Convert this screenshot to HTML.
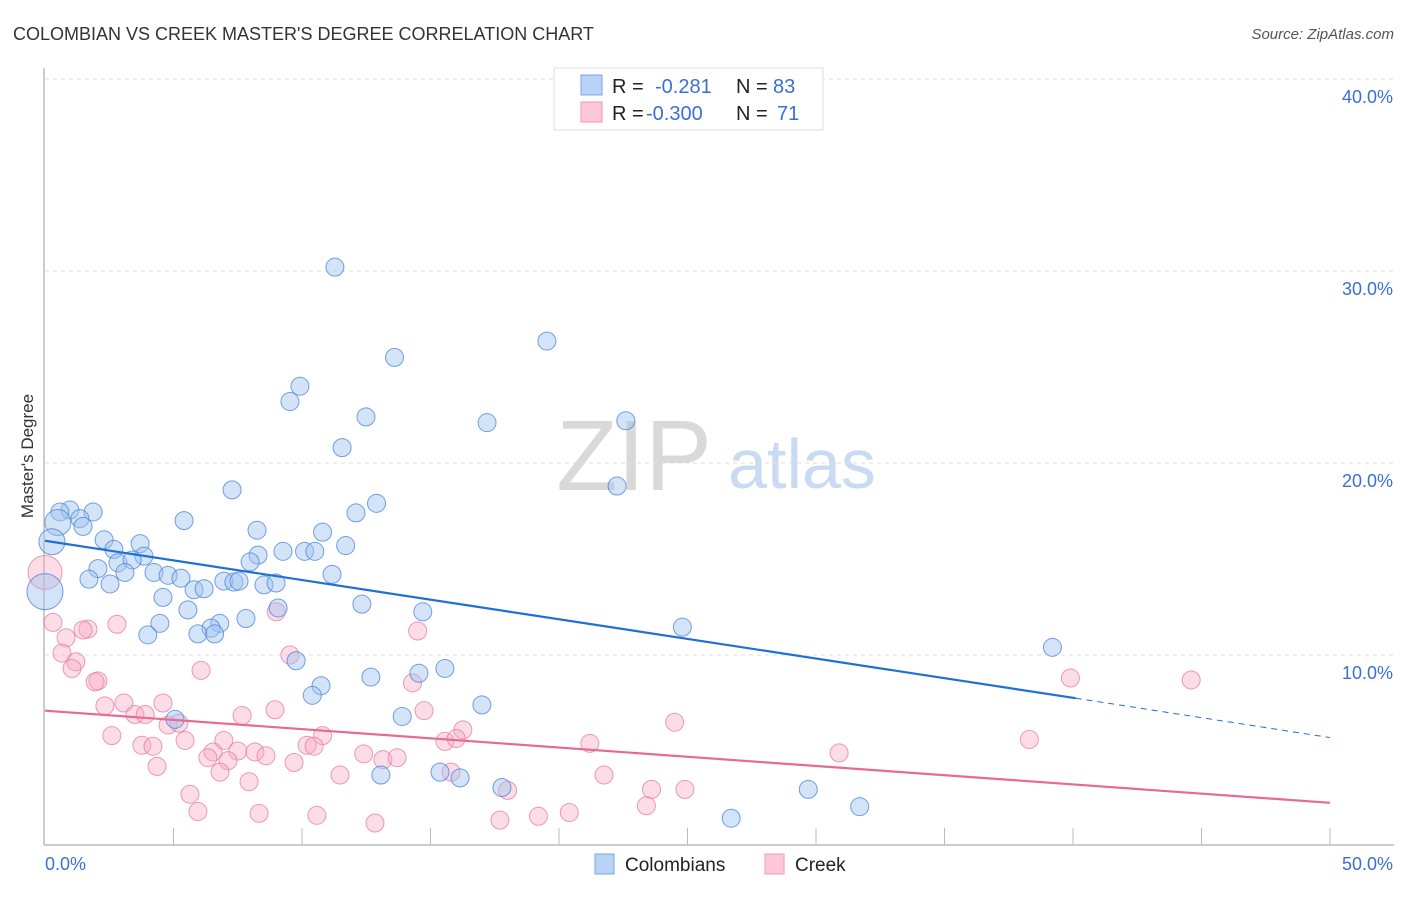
<!DOCTYPE html>
<html><head><meta charset="utf-8"><style>
body{margin:0;background:#fff;font-family:"Liberation Sans",sans-serif;}
svg text{font-family:"Liberation Sans",sans-serif;}
</style></head><body>
<svg id="chart" width="1406" height="892" viewBox="0 0 1406 892" xmlns="http://www.w3.org/2000/svg">
<text x="13" y="40" font-size="18" fill="#333">COLOMBIAN VS CREEK MASTER'S DEGREE CORRELATION CHART</text>
<text x="1394" y="39" font-size="15" fill="#555" text-anchor="end" font-style="italic">Source: ZipAtlas.com</text>
<g>
<text x="634" y="490" font-size="100" fill="#d9d9d9" text-anchor="middle" font-family="Liberation Serif, serif">ZIP</text>
<text x="802" y="488" font-size="70" fill="#c9daf2" text-anchor="middle">atlas</text>
</g>
<g id="grid"></g>
<g id="axes"></g>
<g id="marks"></g>
<text transform="translate(33,456) rotate(-90)" font-size="17" fill="#333" text-anchor="middle">Master's Degree</text>
<g>
<rect x="554" y="68" width="269" height="62" fill="#fff" stroke="#ddd"/>
<rect x="581" y="75" width="21" height="20" fill="#b8d3f5" stroke="#7aa6e6"/>
<rect x="581" y="102" width="21" height="20" fill="#fcc8d7" stroke="#ee9ab4"/>
<text x="612" y="93" font-size="20" fill="#222">R = </text>
<text x="655" y="93" font-size="20" fill="#3b6fd4">-0.281</text>
<text x="736" y="93" font-size="20" fill="#222">N = </text>
<text x="773" y="93" font-size="20" fill="#3b6fd4">83</text>
<text x="612" y="120" font-size="20" fill="#222">R = </text>
<text x="646" y="120" font-size="20" fill="#3b6fd4">-0.300</text>
<text x="736" y="120" font-size="20" fill="#222">N = </text>
<text x="777" y="120" font-size="20" fill="#3b6fd4">71</text>
</g>
<g>
<rect x="595" y="854" width="19" height="20" fill="#b8d3f5" stroke="#7aa6e6"/>
<text x="625" y="871" font-size="19" fill="#222">Colombians</text>
<rect x="765" y="854" width="19" height="20" fill="#fcc8d7" stroke="#ee9ab4"/>
<text x="795" y="871" font-size="19" fill="#222">Creek</text>
</g>
</svg>
<script>
const xTicks=[0,5,10,15,20,25,30,35,40,45,50];
const yTicks=[10,20,30,40];
const yTickLabels=["10.0%","20.0%","30.0%","40.0%"];
const blueX=[11.28,19.53,13.6,9.92,9.53,12.49,17.2,22.6,11.56,22.26,7.28,12.9,12.1,5.41,0.97,1.87,0.58,1.36,0.5,1.48,8.25,10.8,0.27,2.3,3.7,11.7,2.68,9.26,10.1,10.5,8.29,3.85,2.84,3.39,7.98,2.06,3.11,4.24,4.79,5.29,11.17,1.71,2.53,6.96,7.35,7.55,8.52,8.99,5.8,6.19,0,4.59,12.33,9.07,5.56,14.7,7.82,6.8,4.47,6.46,24.8,4.0,5.95,6.6,9.77,15.56,14.55,12.68,39.2,10.74,10.4,17.0,13.9,5.06,13.07,15.37,16.15,17.78,29.7,31.7,26.7];
const blueY=[30.2,26.35,25.5,24.0,23.2,22.4,22.1,22.2,20.8,18.8,18.6,17.9,17.4,17.0,17.55,17.45,17.45,17.1,16.9,16.7,16.5,16.4,15.9,16.0,15.8,15.7,15.5,15.4,15.4,15.4,15.2,15.15,14.8,14.95,14.85,14.5,14.3,14.3,14.15,14.0,14.2,13.95,13.7,13.85,13.8,13.85,13.65,13.75,13.4,13.45,13.3,13.0,12.65,12.45,12.35,12.25,11.9,11.65,11.65,11.4,11.45,11.05,11.1,11.1,9.7,9.3,9.05,8.85,10.4,8.4,7.9,7.4,6.8,6.65,3.75,3.9,3.6,3.1,3.0,2.1,1.5];
const blueBig=[18,22,50];
const pinkX=[0,0.31,1.67,1.48,2.8,0.82,0.66,1.2,1.05,2.06,1.95,6.07,9.53,14.5,9.0,14.3,2.33,3.07,4.59,3.5,3.9,7.67,8.95,14.75,4.79,5.21,24.5,16.26,2.6,3.77,4.2,5.45,6.96,10.8,10.2,10.47,15.56,16.0,21.2,38.3,30.9,6.54,6.34,7.5,8.17,8.6,7.12,12.4,13.15,13.7,9.69,4.36,6.81,11.48,15.8,21.75,7.94,18.0,23.6,24.9,5.64,23.4,5.95,8.33,10.58,12.84,17.7,19.2,20.4,39.9,44.6];
const pinkY=[14.3,11.7,11.35,11.3,11.6,10.9,10.1,9.65,9.3,8.65,8.6,9.2,10.0,11.25,12.25,8.55,7.35,7.5,7.5,6.9,6.9,6.85,7.15,7.1,6.35,6.45,6.5,6.1,5.8,5.3,5.25,5.55,5.55,5.8,5.3,5.25,5.5,5.65,5.4,5.6,4.9,4.95,4.65,5.0,4.95,4.75,4.5,4.85,4.55,4.65,4.4,4.2,3.9,3.75,3.9,3.75,3.4,2.95,3.0,3.0,2.75,2.15,1.85,1.75,1.65,1.25,1.4,1.6,1.8,8.8,8.7];
const pinkBig=[0];
const blueTrend=[15.95,7.75,5.7];
const blueTrendX=[0,40.1,50];
const pinkTrend=[7.1,2.3];
const pinkTrendX=[0,50];

const X0=45,X1=1330,Y0=847,PXY=19.2;
const sx=v=>X0+(X1-X0)*v/50;
const sy=v=>Y0-v*PXY;
const NS="http://www.w3.org/2000/svg";
function mk(t,a,p){const e=document.createElementNS(NS,t);for(const k in a)e.setAttribute(k,a[k]);p.appendChild(e);return e;}
const grid=document.getElementById('grid'),axes=document.getElementById('axes'),marks=document.getElementById('marks');
yTicks.forEach((v,i)=>{
 const l=mk('line',{x1:45,x2:1394,y1:sy(v),y2:sy(v),stroke:'#ddd','stroke-dasharray':'4,4'},grid);
 
 
 const t=mk('text',{x:1393,y:sy(v)+24,'font-size':18,fill:'#3b6fd4','text-anchor':'end'},axes);
 t.textContent=yTickLabels[i];
 
 
});
const ax=mk('line',{x1:44,x2:44,y1:68,y2:845,stroke:'#bbb','stroke-width':1.5},axes);


const bx=mk('line',{x1:44,x2:1394,y1:845,y2:845,stroke:'#bbb','stroke-width':1.5},axes);


xTicks.forEach(v=>{
 if(v===0)return;
 const t=mk('line',{x1:sx(v),x2:sx(v),y1:828,y2:845,stroke:'#bbb'},axes);
 
 
});
const xl0=mk('text',{x:45,y:870,'font-size':18,fill:'#3b6fd4'},axes);xl0.textContent='0.0%';


const xl1=mk('text',{x:1393,y:870,'font-size':18,fill:'#3b6fd4','text-anchor':'end'},axes);xl1.textContent='50.0%';



pinkX.forEach((v,i)=>{
 const c=mk('circle',{cx:sx(v),cy:sy(pinkY[i]),r:pinkBig.includes(i)?17:9,fill:'rgba(248,170,195,0.4)',stroke:'rgba(232,120,160,0.75)','stroke-width':1},marks);
 
 
});
blueX.forEach((v,i)=>{
 const c=mk('circle',{cx:sx(v),cy:sy(blueY[i]),r:blueBig.includes(i)?(i===50?18:13):9,fill:'rgba(160,196,240,0.45)',stroke:'rgba(70,130,215,0.75)','stroke-width':1},marks);
 
 
});
const bl=mk('line',{x1:sx(blueTrendX[0]),y1:sy(blueTrend[0]),x2:sx(blueTrendX[1]),y2:sy(blueTrend[1]),stroke:'#1f6fd6','stroke-width':2.2},marks);


const bd=mk('line',{x1:sx(blueTrendX[1]),y1:sy(blueTrend[1]),x2:sx(blueTrendX[2]),y2:sy(blueTrend[2]),stroke:'#1f6fd6','stroke-width':1,'stroke-dasharray':'6,5'},marks);


const pl=mk('line',{x1:sx(pinkTrendX[0]),y1:sy(pinkTrend[0]),x2:sx(pinkTrendX[1]),y2:sy(pinkTrend[1]),stroke:'#e56a94','stroke-width':2.2},marks);


</script>
</body></html>
